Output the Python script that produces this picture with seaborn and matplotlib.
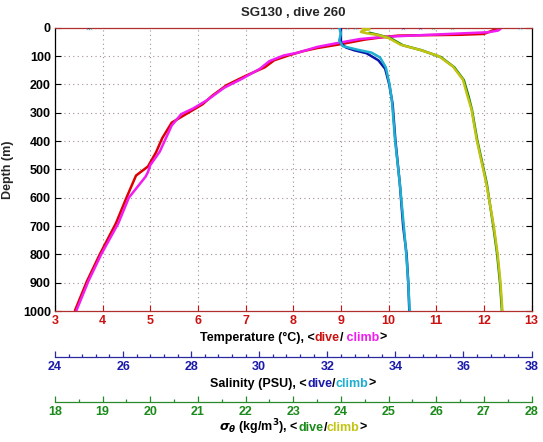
import numpy as np
import pandas as pd
import matplotlib
matplotlib.use('Agg')
import matplotlib.pyplot as plt
import seaborn as sns

# profile data (depth in m)
temp_dive_depth = [2, 22, 25, 26, 27, 28, 33, 42, 58, 72, 83, 98, 115, 140, 170, 203, 240, 270,
                   300, 335, 390, 440, 490, 522, 600, 690, 800, 895, 998]
temp_dive = [12.3, 12.0, 11.5, 11.0, 10.5, 10.2, 9.9, 9.5, 9.0, 8.5, 8.2, 7.9, 7.6, 7.4, 7.0, 6.6, 6.3, 6.1,
             5.8, 5.45, 5.25, 5.12, 4.95, 4.7, 4.5, 4.28, 3.94, 3.67, 3.42]

temp_climb_depth = [0, 4, 10, 16, 24, 30, 34, 40, 55, 68, 88, 98, 118, 145, 178, 212, 255, 285,
                    305, 345, 400, 437, 485, 510, 526, 600, 690, 800, 895, 998]
temp_climb = [12.25, 12.35, 12.3, 12.1, 11.0, 10.2, 9.8, 9.4, 8.9, 8.5, 8.1, 7.8, 7.5, 7.3, 6.95, 6.55, 6.2, 5.9,
              5.65, 5.45, 5.3, 5.2, 5.0, 4.95, 4.9, 4.55, 4.33, 3.97, 3.7, 3.45]

sal_dive_depth = [5, 30, 55, 70, 80, 90, 115, 145, 200, 270, 396, 549, 702, 800, 902, 1000]
sal_dive = [32.4, 32.4, 32.4, 32.55, 32.8, 33.15, 33.5, 33.7, 33.82, 33.92, 34.0, 34.13, 34.23, 34.33, 34.38, 34.41]

sal_climb_depth = [0, 20, 45, 65, 78, 88, 105, 140, 200, 260, 396, 549, 702, 800, 902, 1000]
sal_climb = [32.35, 32.4, 32.35, 32.45, 32.9, 33.3, 33.55, 33.72, 33.83, 33.9, 33.99, 34.13, 34.25, 34.32, 34.38, 34.42]

sig_dive_depth = [18, 26, 38, 62, 80, 104, 140, 185, 243, 290, 396, 549, 702, 800, 902, 1000]
sig_dive = [24.6, 24.8, 25.05, 25.3, 25.7, 26.1, 26.38, 26.58, 26.68, 26.75, 26.86, 27.06, 27.2, 27.28, 27.34, 27.38]

sig_climb_depth = [0, 2, 5, 10, 15, 20, 25, 36, 60, 78, 100, 137, 183, 243, 288, 396, 549, 702, 800, 902, 1000]
sig_climb = [24.45, 24.5, 24.6, 24.45, 24.42, 24.55, 24.75, 25.0, 25.25, 25.65, 26.05, 26.35, 26.56, 26.66, 26.74,
             26.85, 27.05, 27.21, 27.29, 27.35, 27.39]

# scattered surface points
sal_surf_dive = [24.97, 34.23, 34.72]
sal_surf_climb = [32.13, 32.57, 32.81, 37.66]
sig_surf_dive = [18.73, 25.93, 26.33]

temp_ticks = list(range(3, 14))
sal_ticks = list(range(24, 39, 2))
sig_ticks = list(range(18, 29))
depth_ticks = list(range(0, 1001, 100))

RED = '#dd0000'
MAG = '#f01cf0'
BLUE = '#0a14a8'
CYAN = '#1eaed0'
GREEN = '#0a7d0a'
YEL = '#c2c414'
TRED = '#cc1111'
TBLUE = '#1a1aaa'
TGREEN = '#1a8a1a'

sns.set_style('white')
plt.rcParams['font.family'] = ['Liberation Sans', 'DejaVu Sans']
plt.rcParams['font.weight'] = 'bold'
plt.rcParams['mathtext.fontset'] = 'dejavusans'

fig = plt.figure(figsize=(5.43, 4.42), dpi=100)
L, W = 55 / 543, 476.5 / 543


def fy(py):
    return 1 - py / 442


ax = fig.add_axes([L, fy(311), W, fy(27.7) - fy(311)])

sns.lineplot(x=temp_dive, y=temp_dive_depth, sort=False, estimator=None, color=RED, lw=1.8, ax=ax)
sns.lineplot(x=temp_climb, y=temp_climb_depth, sort=False, estimator=None, color=MAG, lw=1.8, ax=ax)
ax.set_xlim(3, 13)
ax.set_ylim(1000, 0)
ax.set_xticks(temp_ticks)
ax.set_yticks(depth_ticks)
ax.grid(True, color='#a09090', ls=(0, (1, 3)), lw=0.8)
ax.tick_params(axis='x', colors=TRED, direction='in', top=True, bottom=True, length=4, labelsize=9, pad=3)
ax.tick_params(axis='y', colors='black', direction='in', left=True, right=True, length=4, labelsize=9, pad=3)
for lab in ax.get_xticklabels() + ax.get_yticklabels():
    lab.set_fontweight('bold')
ax.spines['top'].set_color('#b03030')
ax.spines['bottom'].set_color('#b03030')
ax.spines['left'].set_color('black')
ax.spines['right'].set_color('black')
for s in ax.spines.values():
    s.set_linewidth(0.9)
ax.set_xlabel('')
ax.set_ylabel('Depth (m)', fontsize=9, fontweight='bold', labelpad=6)
fig.text(293 / 543, fy(13), 'SG130 , dive 260', fontsize=9.5, fontweight='bold', ha='center', va='center')

# salinity and sigma drawn on their own hidden x scales
ax_s = ax.twiny()
ax_s.set_xlim(24, 38)
sns.lineplot(x=sal_dive, y=sal_dive_depth, sort=False, estimator=None, color=BLUE, lw=1.8, ax=ax_s)
sns.lineplot(x=sal_climb, y=sal_climb_depth, sort=False, estimator=None, color=CYAN, lw=1.8, ax=ax_s)
sns.scatterplot(x=sal_surf_dive, y=[0] * len(sal_surf_dive), color=BLUE, s=6, marker='x', ax=ax_s)
sns.scatterplot(x=sal_surf_climb, y=[0] * len(sal_surf_climb), color=CYAN, s=6, marker='x', ax=ax_s)
ax_s.axis('off')

ax_g = ax.twiny()
ax_g.set_xlim(18, 28)
sns.lineplot(x=sig_dive, y=sig_dive_depth, sort=False, estimator=None, color=GREEN, lw=1.8, ax=ax_g)
sns.lineplot(x=sig_climb, y=sig_climb_depth, sort=False, estimator=None, color=YEL, lw=1.8, ax=ax_g)
sns.scatterplot(x=sig_surf_dive, y=[0] * len(sig_surf_dive), color=GREEN, s=6, marker='x', ax=ax_g)
ax_g.axis('off')
ax.set_ylim(1000, 0)


def ruler(ypix, lo, hi, major, minor, color, labcolor):
    r = fig.add_axes([L, fy(ypix), W, 1e-5])
    r.set_facecolor('none')
    for k in ['top', 'left', 'right']:
        r.spines[k].set_visible(False)
    r.spines['bottom'].set_color(color)
    r.spines['bottom'].set_linewidth(0.9)
    r.set_xlim(lo, hi)
    r.set_yticks([])
    r.set_xticks(major)
    r.set_xticks(minor, minor=True)
    r.tick_params(axis='x', which='major', direction='in', bottom=True, length=4, width=0.9, color=color,
                  labelcolor=labcolor, labelsize=9, pad=3)
    r.tick_params(axis='x', which='minor', direction='in', bottom=True, length=2.5, width=0.9, color=color)
    for lab in r.get_xticklabels():
        lab.set_fontweight('bold')
    return r


sal_minor = [round(v, 1) for v in np.arange(24, 38.01, 0.4)]
ruler(357, 24, 38, sal_ticks, sal_minor, '#2a2aa0', TBLUE)
ruler(402, 18, 28, sig_ticks, [v + 0.5 for v in sig_ticks[:-1]], '#2a8a2a', TGREEN)

renderer = fig.canvas.get_renderer()


def colored_label(pieces, cx, ypix, size=9):
    texts = []
    x = 0
    for s, c in pieces:
        t = fig.text(x, fy(ypix), s, color=c, fontsize=size, fontweight='bold', ha='left', va='baseline')
        w = t.get_window_extent(renderer).width / fig.bbox.width
        texts.append((t, x))
        x += w
    x0 = cx / 543 - x / 2
    for t, off in texts:
        t.set_x(x0 + off)


colored_label([('Temperature (°C), <', 'black'), ('dive', TRED), ('/', 'black'), (' climb', MAG), ('>', 'black')],
              293, 341)
colored_label([('Salinity (PSU), <', 'black'), ('dive', TBLUE), ('/', 'black'), ('climb', CYAN), ('>', 'black')],
              293, 387)
colored_label([(r'$\sigma_\theta$ (kg/m$^3$), <', 'black'), ('dive', TGREEN), ('/', 'black'), ('climb', YEL),
               ('>', 'black')], 293, 431)

fig.savefig('out.png', dpi=100)
